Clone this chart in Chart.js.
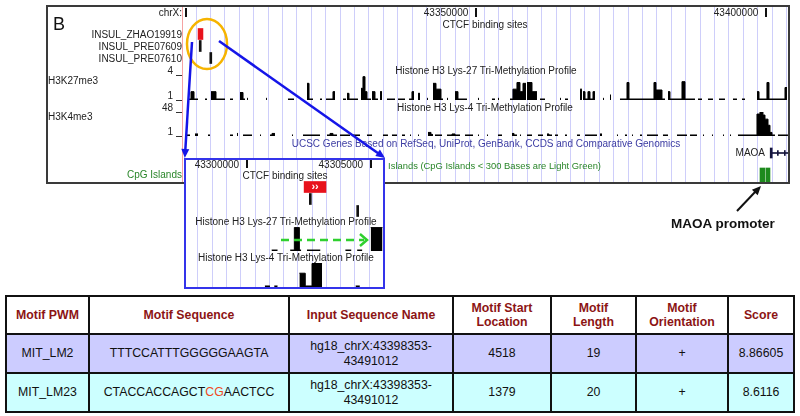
<!DOCTYPE html>
<html>
<head>
<meta charset="utf-8">
<script src="https://cdn.jsdelivr.net/npm/chart.js@4.4.1/dist/chart.umd.min.js"></script>
<style>
html,body{margin:0;padding:0;background:#fff;}
#root{position:relative;width:800px;height:416px;overflow:hidden;font-family:"Liberation Sans",Arial,Helvetica,sans-serif;}
#root canvas{position:absolute;}
.lab{position:absolute;white-space:nowrap;font-size:10px;line-height:12px;color:#222;}
#tbl{position:absolute;left:5px;top:295px;width:788px;border-collapse:collapse;table-layout:fixed;font-size:12.3px;color:#111;}
#tbl td,#tbl th{border:2px solid #111;text-align:center;vertical-align:middle;padding:0;line-height:14.3px;}
#tbl th{color:#8c1414;font-weight:bold;background:#fff;}
</style>
</head>
<body>
<div id="root"></div>
<script>
// ---------------- DATA (genomic offsets in kb from chrX:43,300,000) ----------------
const rulerBaseBp = 43300000;
const rulerTicksKb = [0, 50, 100];
const insetRulerTicksKb = [0, 5];
const viewStartKb = -0.69, viewEndKb = 103.96;
const insetStartKb = -2.46, insetEndKb = 5.15;

const featureRows = ['INSUL_ZHAO19919', 'INSUL_PRE07609', 'INSUL_PRE07610'];
const featureStartKb = [2.08, 2.28, 4.10];
const featureEndKb = [2.92, 2.34, 4.16];
const featureColors = ['#e8121c', '#111111', '#111111'];

// H3K27me3 profile (main view)
const k27StartKb = [0.52,0.86,1.38,3.28,4.31,5.17,7.59,9.31,9.83,10.52,
  13.79,17.58,20.86,21.21,23.10,24.14,25.34,27.07,27.76,28.10,
  30.17,30.51,30.86,31.20,32.07,32.58,33.45,34.65,36.55,38.45,
  38.96,40.00,41.55,42.58,43.10,43.96,45.00,46.38,46.89,50.34,
  52.75,53.79,55.86,56.37,57.06,57.58,58.10,58.79,59.65,61.03,
  64.48,65.34,67.93,68.44,68.79,69.30,69.65,70.17,71.89,73.10,
  74.82,76.03,76.37,80.68,81.03,82.06,83.10,83.44,85.51,86.03,
  88.27,89.99,91.89,94.30,95.85,98.44,98.79,100.16,100.51,103.27];
const k27EndKb = [0.86,1.38,2.07,3.62,5.17,6.72,8.10,9.83,10.17,10.69,
  13.96,18.62,21.21,21.89,23.45,25.34,25.69,27.58,28.10,29.65,
  30.51,30.86,31.20,31.89,32.58,33.10,33.79,36.03,37.76,38.96,
  39.31,40.34,41.72,43.10,43.96,44.31,45.17,46.89,48.44,50.51,
  53.27,53.96,56.37,57.06,57.58,58.10,58.62,59.65,60.51,61.89,
  64.65,65.86,68.27,68.79,69.30,69.65,70.17,70.51,72.06,73.27,
  76.03,76.37,80.68,81.03,82.06,82.58,83.44,85.51,86.03,87.75,
  88.96,90.85,92.92,94.99,96.37,98.79,100.16,100.51,103.27,103.61];
const k27Value = [1.12,2.0,1.12,1.12,2.0,1.12,1.12,1.9,1.12,1.2,
  1.2,1.12,3.0,1.12,1.12,1.12,2.0,1.12,1.8,1.12,
  2.4,3.8,2.0,1.12,2.0,1.12,2.0,1.12,1.12,1.12,
  2.0,1.8,1.2,3.0,2.3,1.12,1.2,2.0,1.12,1.2,
  1.12,1.2,1.12,2.3,3.1,2.0,3.0,3.1,2.0,1.12,
  1.2,1.12,2.3,2.0,1.12,2.0,1.12,2.0,1.2,1.6,
  1.12,3.1,1.12,3.1,2.2,1.12,2.0,1.12,3.2,1.12,
  1.12,1.12,1.12,1.12,1.12,2.0,1.12,3.1,1.12,2.5];
const k27AxisTicks = [1, 4];

// H3K4me3 profile (main view)
const k4StartKb = [0.17,1.55,3.79,7.59,8.79,9.83,12.76,14.48,14.83,18.27,
  20.17,24.31,24.83,25.34,26.55,28.79,31.20,33.96,35.51,37.24,
  38.62,40.00,41.72,42.24,42.93,45.00,45.86,46.38,48.10,50.34,
  51.89,53.79,56.20,56.55,57.58,58.79,60.68,62.24,62.58,63.62,
  65.34,67.41,68.79,71.37,74.30,75.68,76.89,78.27,79.48,82.23,
  84.65,86.89,89.13,90.68,92.58,93.79,95.16,98.44,98.96,99.47,
  99.82,100.34,100.68,101.03,102.06];
const k4EndKb = [0.69,2.07,4.14,8.10,8.96,11.38,12.93,14.83,15.34,18.45,
  23.10,24.83,25.34,26.03,28.27,30.00,32.07,34.82,36.38,37.76,
  38.79,40.17,42.24,42.58,44.13,45.86,46.38,47.24,49.48,50.51,
  52.06,54.48,56.55,57.06,57.75,59.65,61.55,62.58,63.10,64.13,
  65.68,67.93,70.86,71.72,74.48,76.03,77.06,78.61,81.37,83.10,
  86.37,88.10,89.30,90.85,92.75,93.96,98.44,98.96,99.47,99.82,
  100.34,100.68,101.03,101.54,103.78];
const k4Value = [3,5,3,3,6,3,3,3,6,3,
  3,3,6,3,3,3,3,3,3,3,
  3,3,8,4,3,3,5,3,3,3,
  3,3,6,3,3,3,3,5,3,3,
  3,3,3,5,3,3,3,3,3,3,
  3,3,3,3,3,3,3,44,48,42,
  34,22,8,3,3];
const k4AxisTicks = [1, 48];

// Genes / CpG
const geneRows = ['MAOA', 'CpG'];
const geneExonStartKb = [100.72];
const geneExonEndKb = [100.90];
const geneIntronKb = [100.90, 103.96];
const geneArrowKb = [101.95, 103.15];
const cpgStartKb = [98.96, 100.00];
const cpgEndKb = [99.82, 100.68];

// Inset (zoomed view)
const insetK27StartKb = [0.00,0.85,1.04,1.27,1.62,3.38,3.92,4.54];
const insetK27EndKb = [0.27,1.04,1.27,1.35,2.23,3.65,4.15,5.08];
const insetK27Value = [1.12,1.12,3.95,1.12,1.12,1.12,1.12,3.95];
const insetK4StartKb = [-0.31,0.12,1.27,1.54,1.85,3.85];
const insetK4EndKb = [-0.08,0.27,1.54,1.85,2.31,4.04];
const insetK4Value = [3,3,28,3,47,3];

// Table
const tableHeader = ['Motif PWM','Motif Sequence','Input Sequence Name','Motif Start|Location','Motif|Length','Motif|Orientation','Score'];
const tableColWidths = [83, 200, 164, 98, 85, 92, 66];
const motifPWM = ['MIT_LM2','MIT_LM23'];
const motifSequence = ['TTTCCATTTGGGGGAAGTA','CTACCACCAGCTCGAACTCC'];
const inputSequenceName = ['hg18_chrX:43398353-|43491012','hg18_chrX:43398353-|43491012'];
const motifStart = [4518, 1379];
const motifLength = [19, 20];
const motifOrientation = ['+','+'];
const motifScore = ['8.86605','8.6116'];
const rowColors = ['#ccccff', '#ccffff'];

// ---------------- RENDER ----------------
const FF = '"Liberation Sans", Arial, Helvetica, sans-serif';
Chart.defaults.font.family = FF;
const root = document.getElementById('root');
function el(tag, css){ const e = document.createElement(tag); Object.assign(e.style, css); root.appendChild(e); return e; }
function label(text, x, cy, align, extra, lh){
  lh = lh || 12;
  const d = document.createElement('div'); d.className = 'lab'; d.textContent = text;
  d.style.left = x + 'px'; d.style.top = (cy - lh / 2) + 'px'; d.style.lineHeight = lh + 'px';
  if (align === 'right') d.style.transform = 'translateX(-100%)';
  else if (align === 'center') d.style.transform = 'translateX(-50%)';
  if (extra) Object.assign(d.style, extra);
  root.appendChild(d); return d;
}
function canvasAt(x, y, w, h){
  const c = document.createElement('canvas'); c.width = w; c.height = h;
  c.style.left = x + 'px'; c.style.top = y + 'px'; c.style.width = w + 'px'; c.style.height = h + 'px';
  root.appendChild(c); return c;
}
const baseOpts = () => ({responsive:false, maintainAspectRatio:false, animation:false, devicePixelRatio:1, events:[],
  plugins:{legend:{display:false}, tooltip:{enabled:false}}});

function stepPoints(starts, ends, vals){
  const pts = [];
  for (let i = 0; i < starts.length; i++){
    if (i > 0 && starts[i] > ends[i - 1] + 1e-6) pts.push({x:(ends[i - 1] + starts[i]) / 2, y:null});
    pts.push({x:starts[i], y:vals[i]});
    pts.push({x:ends[i], y:vals[i]});
  }
  return pts;
}
function gridChart(x, y, w, h, xmin, xmax, first, step){
  const ticks = [];
  for (let v = first; v <= xmax; v += step) if (v > xmin) ticks.push({value:v});
  new Chart(canvasAt(x, y, w, h), {type:'line', data:{datasets:[]}, options:Object.assign(baseOpts(), {
    layout:{padding:0},
    scales:{x:{type:'linear', min:xmin, max:xmax, afterBuildTicks:s => { s.ticks = ticks; }, afterFit:s => { s.height = 0; },
      grid:{color:'rgb(206,206,250)', lineWidth:1, drawTicks:false}, ticks:{display:false}, border:{display:false}},
      y:{display:false}}})});
}
function rulerChart(x, y, w, xmin, xmax, tickVals, tickLen, showFirst){
  new Chart(canvasAt(x, y, w, 30), {type:'line', data:{datasets:[]}, options:Object.assign(baseOpts(), {
    layout:{padding:{top:2, left:0, right:0, bottom:0}},
    scales:{x:{type:'linear', position:'bottom', min:xmin, max:xmax,
      afterBuildTicks:s => { s.ticks = tickVals.map(v => ({value:v})); }, afterFit:s => { s.height = 22; },
      grid:{drawOnChartArea:false, drawTicks:true, tickLength:tickLen, color:'#111', lineWidth:2},
      border:{display:false},
      ticks:{padding:-tickLen - 1, labelOffset:-30, color:'#222', font:{size:10}, autoSkip:false, maxRotation:0, minRotation:0,
        callback:v => (v === 0 && !showFirst) ? '' : String(rulerBaseBp + v * 1000)}},
      y:{display:false}}})});
}
function trackChart(x, y, w, h, pad, xmin, xmax, ymin, ymax, starts, ends, vals, axisTicks){
  return new Chart(canvasAt(x, y, w, h), {type:'line',
    data:{datasets:[{data:stepPoints(starts, ends, vals), stepped:'after', fill:'start', borderColor:'#000', backgroundColor:'#000',
      borderWidth:1, pointRadius:0, spanGaps:false}]},
    options:Object.assign(baseOpts(), {layout:{padding:pad},
      scales:{x:{type:'linear', min:xmin, max:xmax, display:false},
        y:{type:'linear', min:ymin, max:ymax, display:!!axisTicks, position:'left',
          afterBuildTicks:s => { if (axisTicks) s.ticks = axisTicks.map(v => ({value:v})); },
          afterFit:s => { s.width = 32; },
          grid:{drawOnChartArea:false, drawTicks:true, tickLength:6, color:'#333', lineWidth:1},
          border:{display:false},
          ticks:{padding:3, labelOffset:-3.5, color:'#222', font:{size:10}, autoSkip:false}}}})});
}
const chevronPlugin = {id:'chev', afterDatasetsDraw(chart){
  const bar = chart.getDatasetMeta(0).data[0]; if (!bar) return;
  const ctx = chart.ctx; ctx.save(); ctx.fillStyle = '#fff'; ctx.font = 'bold 11px ' + FF;
  ctx.textAlign = 'center'; ctx.textBaseline = 'middle';
  ctx.fillText('\u203A\u203A', (bar.x + bar.base) / 2, bar.y); ctx.restore(); }};
function featureChart(x, y, w, h, xmin, xmax, thick, plugins){
  new Chart(canvasAt(x, y, w, h), {type:'bar',
    data:{labels:featureRows, datasets:[{data:featureRows.map((r, i) => ({y:r, x:[featureStartKb[i], featureEndKb[i]]})),
      backgroundColor:featureColors, barThickness:thick, minBarLength:2, grouped:false, borderWidth:0}]},
    options:Object.assign(baseOpts(), {indexAxis:'y', layout:{padding:0},
      scales:{x:{type:'linear', min:xmin, max:xmax, display:false}, y:{type:'category', display:false}}}),
    plugins:plugins || []});
}

// ----- main browser panel -----
el('div', {position:'absolute', left:'46px', top:'5px', width:'744px', height:'179px', background:'#fff'});
gridChart(182, 7, 607, 175, viewStartKb, viewEndKb, -0.741, 2.4826);
el('div', {position:'absolute', left:'182px', top:'6px', width:'1px', height:'177px', background:'#f5a3a3'});
rulerChart(182, 0, 607, viewStartKb, viewEndKb, rulerTicksKb, 9, false);
featureChart(182, 28, 607, 36, viewStartKb, viewEndKb, 11);
trackChart(150, 65, 639, 45, {top:10, bottom:10, left:0, right:0}, viewStartKb, viewEndKb, 1, 4, k27StartKb, k27EndKb, k27Value, k27AxisTicks);
trackChart(150, 102, 639, 44, {top:10, bottom:10, left:0, right:0}, viewStartKb, viewEndKb, 1, 48, k4StartKb, k4EndKb, k4Value, k4AxisTicks);
new Chart(canvasAt(182, 142, 607, 44), {type:'bar',
  data:{labels:geneRows, datasets:[
    {data:geneExonStartKb.map((s, i) => ({y:'MAOA', x:[s, geneExonEndKb[i]]})), backgroundColor:'#14143c', barThickness:10, minBarLength:2, grouped:false},
    {data:[{y:'MAOA', x:geneIntronKb}], backgroundColor:'#14143c', barThickness:1, grouped:false},
    {data:geneArrowKb.map(v => ({y:'MAOA', x:[v, v + 0.05]})), backgroundColor:'#14143c', barThickness:5, minBarLength:1, grouped:false},
    {data:cpgStartKb.map((s, i) => ({y:'CpG', x:[s, cpgEndKb[i]]})), backgroundColor:'#1d8a1d', barThickness:14, minBarLength:2, grouped:false}
  ]},
  options:Object.assign(baseOpts(), {indexAxis:'y', layout:{padding:0},
    scales:{x:{type:'linear', min:viewStartKb, max:viewEndKb, display:false}, y:{type:'category', display:false}}})});

const GREEN = '#2a862a';
label('B', 53, 24, 'left', {fontSize:'18px', color:'#111'}, 20);
label('chrX:', 182, 13, 'right');
label('CTCF binding sites', 485, 25, 'center');
featureRows.forEach((r, i) => label(r, 182, 35 + 12 * i, 'right'));
label('Histone H3 Lys-27 Tri-Methylation Profile', 486, 71, 'center');
label('H3K27me3', 48, 81, 'left');
label('Histone H3 Lys-4 Tri-Methylation Profile', 485, 108, 'center');
label('H3K4me3', 48, 117, 'left');
label('UCSC Genes Based on RefSeq, UniProt, GenBank, CCDS and Comparative Genomics', 486, 144, 'center', {color:'#3c3ca2'});
label('MAOA', 765, 153, 'right');
label('CpG Islands (CpG Islands < 300 Bases are Light Green)', 601, 166, 'right', {color:GREEN, fontSize:'9.4px'});
label('CpG Islands', 182, 175, 'right', {color:GREEN});
el('div', {position:'absolute', left:'46px', top:'5px', width:'744px', height:'179px', border:'2px solid #3a3a3a', boxSizing:'border-box'});

// ----- inset panel -----
el('div', {position:'absolute', left:'184px', top:'158px', width:'201px', height:'131px', background:'#fff'});
gridChart(186, 160, 198, 127, insetStartKb, insetEndKb, -2.0, 0.548);
rulerChart(186, 152, 198, insetStartKb, insetEndKb, insetRulerTicksKb, 8, true);
featureChart(186, 181, 198, 36, insetStartKb, insetEndKb, 11, [chevronPlugin]);
trackChart(186, 227, 198, 24, 0, insetStartKb, insetEndKb, 1, 4, insetK27StartKb, insetK27EndKb, insetK27Value, null);
trackChart(186, 263, 198, 24, 0, insetStartKb, insetEndKb, 1, 48, insetK4StartKb, insetK4EndKb, insetK4Value, null);
label('CTCF binding sites', 285, 176, 'center');
label('Histone H3 Lys-27 Tri-Methylation Profile', 286, 222, 'center');
label('Histone H3 Lys-4 Tri-Methylation Profile', 286, 258, 'center');
el('div', {position:'absolute', left:'184px', top:'158px', width:'201px', height:'131px', border:'2px solid #3434ea', boxSizing:'border-box'});

// ----- annotations -----
const svgNS = 'http://www.w3.org/2000/svg';
const svg = document.createElementNS(svgNS, 'svg');
svg.setAttribute('width', '800'); svg.setAttribute('height', '416');
svg.style.position = 'absolute'; svg.style.left = '0px'; svg.style.top = '0px';
svg.innerHTML =
  '<ellipse cx="207" cy="44" rx="20" ry="25" fill="none" stroke="#f6b400" stroke-width="2.5"/>' +
  '<line x1="192" y1="42" x2="185.3" y2="150" stroke="#1515e8" stroke-width="2.5"/>' +
  '<polygon points="181.3,148.8 189.3,149.2 184.8,158" fill="#1515e8"/>' +
  '<line x1="219" y1="41" x2="378.5" y2="153.5" stroke="#1515e8" stroke-width="2.5"/>' +
  '<polygon points="375.3,156.1 379.9,149.5 385,158" fill="#1515e8"/>' +
  '<line x1="281" y1="240" x2="364" y2="240" stroke="#2fd02f" stroke-width="2.5" stroke-dasharray="8 5"/>' +
  '<polyline points="360,234 367,240 360,246" fill="none" stroke="#2fd02f" stroke-width="2.5"/>' +
  '<line x1="737" y1="211" x2="756" y2="191" stroke="#111" stroke-width="2"/>' +
  '<polygon points="751.9,189.7 757.7,195.3 761,186" fill="#111"/>';
root.appendChild(svg);
label('MAOA promoter', 671, 224, 'left', {fontSize:'13.5px', fontWeight:'bold', color:'#111'}, 16);

// ----- table -----
const tbl = document.createElement('table'); tbl.id = 'tbl';
const cg = document.createElement('colgroup');
tableColWidths.forEach(w => { const c = document.createElement('col'); c.style.width = w + 'px'; cg.appendChild(c); });
tbl.appendChild(cg);
const hr = document.createElement('tr'); hr.style.height = '38px';
tableHeader.forEach(h => { const th = document.createElement('th'); th.innerHTML = h.split('|').join('<br>'); hr.appendChild(th); });
tbl.appendChild(hr);
motifPWM.forEach((p, i) => {
  const tr = document.createElement('tr'); tr.style.height = '39px'; tr.style.background = rowColors[i];
  const seq = motifSequence[i].replace(/CG/g, '<span style="color:#f04a1e">CG</span>');
  const cells = [p, seq, inputSequenceName[i].split('|').join('<br>'), String(motifStart[i]), String(motifLength[i]), motifOrientation[i], motifScore[i]];
  cells.forEach(c => { const td = document.createElement('td'); td.innerHTML = c; tr.appendChild(td); });
  tbl.appendChild(tr);
});
root.appendChild(tbl);
</script>
</body>
</html>
